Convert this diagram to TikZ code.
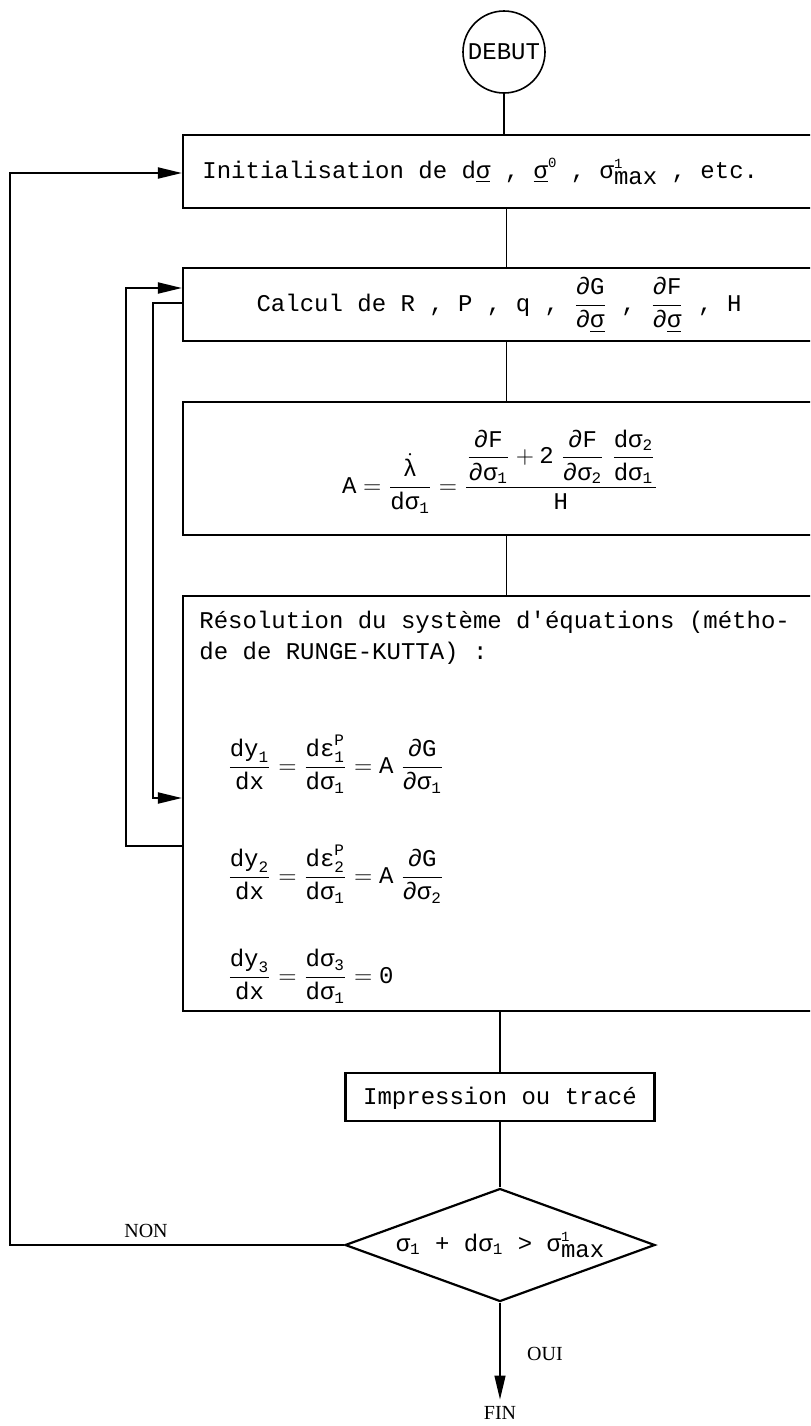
\documentclass[tikz,border=0pt]{standalone}
\usepackage{amsmath}
\usepackage{fontspec}
\setmonofont{Liberation Mono}
\newfontfamily\serifnon{Liberation Serif}
\usetikzlibrary{shapes.geometric,arrows.meta}
\newcommand{\tx}[1]{\text{#1}}
\newcommand{\smax}{σ\rlap{\raisebox{0.75ex}{\scriptsize 1}}\raisebox{-0.55ex}{max}}
\begin{document}
\begin{tikzpicture}[x=0.5pt,y=-0.5pt,
  box/.style={draw, line width=1.1pt, rectangle, inner sep=0pt},
  conn/.style={line width=0.7pt},
  loopline/.style={line width=1pt},
  arr/.style={-{Triangle[length=12pt,width=5.5pt]}},
  txt/.style={inner sep=0pt, font=\ttfamily\fontsize{12}{14}\selectfont},
  lbl/.style={inner sep=0pt, font=\serifnon\fontsize{10}{12}\selectfont}]
\useasboundingbox (0,0) rectangle (810,1426);
\clip (0,0) rectangle (810,1426);

% nodes
\node[draw, circle, line width=0.8pt, minimum size=41pt, inner sep=0pt,
      font=\ttfamily\fontsize{12}{14}\selectfont] (debut) at (504,52) {DEBUT};

\node[box, minimum width=323.5pt, minimum height=36.5pt] (init) at (506.5,171.5) {};
\node[txt, anchor=base west] (inittxt) at (202,178)
  {Initialisation de d\underline{σ} , \underline{σ}\raisebox{0.8ex}{\scriptsize 0} , \smax{} , etc.};

\node[box, minimum width=323.5pt, minimum height=36.5pt] (calc) at (506.5,304.5) {};
\node[txt, anchor=base] (calctxt) at (499,311)
  {Calcul de R , P , q , $\dfrac{\tx{∂G}}{\tx{∂}\underline{\tx{σ}}}$ , $\dfrac{\tx{∂F}}{\tx{∂}\underline{\tx{σ}}}$ , H};

\node[box, minimum width=323.5pt, minimum height=66.5pt] (abox) at (506.5,468.5) {};
\node[txt, anchor=base] (aform) at (500,493)
  {$\tx{A} = \dfrac{\dot{\tx{λ}}}{\tx{dσ}_{\tx{1}}} = \dfrac{\dfrac{\tx{∂F}}{\tx{∂σ}_{\tx{1}}}+\tx{2}\;\dfrac{\tx{∂F}}{\tx{∂σ}_{\tx{2}}}\;\dfrac{\tx{dσ}_{\tx{2}}}{\tx{dσ}_{\tx{1}}}}{\tx{H}}$};

\node[box, minimum width=323.5pt, minimum height=207.5pt] (reso) at (506.5,803.5) {};
\node[txt, anchor=base west] (r1) at (199,628) {Résolution du système d'équations (métho-};
\node[txt, anchor=base west] (r2) at (199,659) {de de RUNGE-KUTTA) :};
\node[txt, anchor=base west] (e1) at (227,773)
  {$\dfrac{\tx{dy}_{\tx{1}}}{\tx{dx}} = \dfrac{\tx{dε}^{\tx{P}}_{\tx{1}}}{\tx{dσ}_{\tx{1}}} = \tx{A}\;\dfrac{\tx{∂G}}{\tx{∂σ}_{\tx{1}}}$};
\node[txt, anchor=base west] (e2) at (227,883)
  {$\dfrac{\tx{dy}_{\tx{2}}}{\tx{dx}} = \dfrac{\tx{dε}^{\tx{P}}_{\tx{2}}}{\tx{dσ}_{\tx{1}}} = \tx{A}\;\dfrac{\tx{∂G}}{\tx{∂σ}_{\tx{2}}}$};
\node[txt, anchor=base west] (e3) at (227,983)
  {$\dfrac{\tx{dy}_{\tx{3}}}{\tx{dx}} = \dfrac{\tx{dσ}_{\tx{3}}}{\tx{dσ}_{\tx{1}}} = \tx{0}$};

\node[box, minimum width=154.5pt, minimum height=24pt] (impr) at (500,1097) {};
\node[txt, anchor=base] (imprtxt) at (500,1104) {Impression ou tracé};

\node[draw, diamond, line width=1.1pt, minimum width=155pt, minimum height=56.5pt, inner sep=0pt] (dia) at (500,1245) {};
\node[txt, anchor=base] (diatxt) at (500,1251)
  {$\tx{σ}_{\tx{1}}$ + d$\tx{σ}_{\tx{1}}$ > \smax};

\node[lbl, anchor=base] (non) at (146,1237) {NON};
\node[lbl, anchor=base] (oui) at (545,1360) {OUI};
\node[lbl, anchor=base, inner sep=3pt] (fin) at (500,1419) {FIN};

% connectors
\draw[conn] (debut.south) -- (debut.south |- init.north);
\draw[conn] (init.south) -- (calc.north);
\draw[conn] (calc.south) -- (abox.north);
\draw[conn] (abox.south) -- (reso.north);
\draw[conn] (impr.north |- reso.south) -- (impr.north);
\draw[conn] (impr.south) -- (dia.north);
\draw[conn, arr] (dia.south) -- (fin.north);

% loops
\coordinate (lx1) at (10,0);
\coordinate (lx2) at (126,0);
\coordinate (lx3) at (153,0);
\coordinate (initin) at ([yshift=-0.75pt]init.west);
\draw[loopline, arr] (dia.west) -- (dia.west -| lx1) |- (initin);

\coordinate (resoout) at ([yshift=-21.25pt]reso.west);
\coordinate (calcin) at ([yshift=8.25pt]calc.west);
\draw[loopline, arr] (resoout) -- (resoout -| lx2) |- (calcin);

\coordinate (calcout) at ([yshift=0.75pt]calc.west);
\coordinate (resoin) at ([yshift=2.75pt]reso.west);
\draw[loopline, arr] (calcout) -- (calcout -| lx3) |- (resoin);
\end{tikzpicture}
\end{document}
